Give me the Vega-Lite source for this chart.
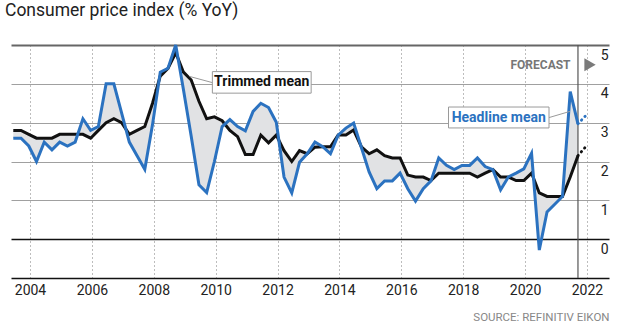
{
  "$schema": "https://vega.github.io/schema/vega-lite/v6.json",
  "width": 598,
  "height": 233,
  "autosize": "none",
  "padding": {"left": 11, "top": 45, "right": 11, "bottom": 54},
  "background": "white",
  "title": {"text": "Consumer price index (% YoY)", "anchor": "start", "frame": "group", "orient": "top", "offset": 20, "dx": -6, "font": "Roboto", "fontSize": 17.5, "fontWeight": "normal", "color": "#222"},
  "config": {"view": {"stroke": null}, "font": "Roboto"},
  "datasets": {
    "cpi": [
      {"t": 2003.46, "headline": 2.6, "trimmed": 2.8},
      {"t": 2003.71, "headline": 2.6, "trimmed": 2.8},
      {"t": 2003.96, "headline": 2.4, "trimmed": 2.7},
      {"t": 2004.21, "headline": 2.0, "trimmed": 2.6},
      {"t": 2004.46, "headline": 2.5, "trimmed": 2.6},
      {"t": 2004.71, "headline": 2.3, "trimmed": 2.6},
      {"t": 2004.96, "headline": 2.5, "trimmed": 2.7},
      {"t": 2005.21, "headline": 2.4, "trimmed": 2.7},
      {"t": 2005.46, "headline": 2.5, "trimmed": 2.7},
      {"t": 2005.71, "headline": 3.1, "trimmed": 2.7},
      {"t": 2005.96, "headline": 2.8, "trimmed": 2.6},
      {"t": 2006.21, "headline": 2.9, "trimmed": 2.8},
      {"t": 2006.46, "headline": 4.0, "trimmed": 3.0},
      {"t": 2006.71, "headline": 4.0, "trimmed": 3.1},
      {"t": 2006.96, "headline": 3.25, "trimmed": 3.0},
      {"t": 2007.21, "headline": 2.5, "trimmed": 2.7},
      {"t": 2007.46, "headline": 2.15, "trimmed": 2.8},
      {"t": 2007.71, "headline": 1.8, "trimmed": 2.9},
      {"t": 2007.96, "headline": 2.95, "trimmed": 3.5},
      {"t": 2008.21, "headline": 4.3, "trimmed": 4.2},
      {"t": 2008.46, "headline": 4.4, "trimmed": 4.4},
      {"t": 2008.71, "headline": 5.0, "trimmed": 4.8},
      {"t": 2008.96, "headline": 3.85, "trimmed": 4.3},
      {"t": 2009.21, "headline": 2.65, "trimmed": 4.1},
      {"t": 2009.46, "headline": 1.4, "trimmed": 3.55},
      {"t": 2009.71, "headline": 1.2, "trimmed": 3.1},
      {"t": 2009.96, "headline": 2.0, "trimmed": 3.15},
      {"t": 2010.21, "headline": 2.9, "trimmed": 3.05},
      {"t": 2010.46, "headline": 3.08, "trimmed": 2.8},
      {"t": 2010.71, "headline": 2.9, "trimmed": 2.64},
      {"t": 2010.96, "headline": 2.79, "trimmed": 2.18},
      {"t": 2011.21, "headline": 3.29, "trimmed": 2.18},
      {"t": 2011.46, "headline": 3.5, "trimmed": 2.68},
      {"t": 2011.71, "headline": 3.39, "trimmed": 2.48},
      {"t": 2011.96, "headline": 3.01, "trimmed": 2.68},
      {"t": 2012.21, "headline": 1.6, "trimmed": 2.28},
      {"t": 2012.46, "headline": 1.19, "trimmed": 2.0},
      {"t": 2012.71, "headline": 1.98, "trimmed": 2.28},
      {"t": 2012.96, "headline": 2.2, "trimmed": 2.2},
      {"t": 2013.21, "headline": 2.5, "trimmed": 2.37},
      {"t": 2013.46, "headline": 2.38, "trimmed": 2.38},
      {"t": 2013.71, "headline": 2.2, "trimmed": 2.38},
      {"t": 2013.96, "headline": 2.68, "trimmed": 2.68},
      {"t": 2014.21, "headline": 2.86, "trimmed": 2.68},
      {"t": 2014.46, "headline": 2.99, "trimmed": 2.81},
      {"t": 2014.71, "headline": 2.36, "trimmed": 2.38},
      {"t": 2014.96, "headline": 1.73, "trimmed": 2.2},
      {"t": 2015.21, "headline": 1.3, "trimmed": 2.3},
      {"t": 2015.46, "headline": 1.5, "trimmed": 2.15},
      {"t": 2015.71, "headline": 1.5, "trimmed": 2.09},
      {"t": 2015.96, "headline": 1.7, "trimmed": 2.09},
      {"t": 2016.21, "headline": 1.3, "trimmed": 1.65},
      {"t": 2016.46, "headline": 0.98, "trimmed": 1.6},
      {"t": 2016.71, "headline": 1.3, "trimmed": 1.6},
      {"t": 2016.96, "headline": 1.5, "trimmed": 1.51},
      {"t": 2017.21, "headline": 2.09, "trimmed": 1.7},
      {"t": 2017.46, "headline": 1.9, "trimmed": 1.7},
      {"t": 2017.71, "headline": 1.79, "trimmed": 1.7},
      {"t": 2017.96, "headline": 1.9, "trimmed": 1.7},
      {"t": 2018.21, "headline": 1.9, "trimmed": 1.7},
      {"t": 2018.46, "headline": 2.09, "trimmed": 1.6},
      {"t": 2018.71, "headline": 1.87, "trimmed": 1.7},
      {"t": 2018.96, "headline": 1.79, "trimmed": 1.79},
      {"t": 2019.21, "headline": 1.27, "trimmed": 1.6},
      {"t": 2019.46, "headline": 1.6, "trimmed": 1.6},
      {"t": 2019.71, "headline": 1.7, "trimmed": 1.51},
      {"t": 2019.96, "headline": 1.81, "trimmed": 1.51},
      {"t": 2020.21, "headline": 2.21, "trimmed": 1.7},
      {"t": 2020.46, "headline": -0.28, "trimmed": 1.19},
      {"t": 2020.71, "headline": 0.7, "trimmed": 1.1},
      {"t": 2020.96, "headline": 0.9, "trimmed": 1.1},
      {"t": 2021.21, "headline": 1.1, "trimmed": 1.1},
      {"t": 2021.46, "headline": 3.8, "trimmed": 1.6},
      {"t": 2021.71, "headline": 2.97, "trimmed": 2.15},
      {"t": 2021.96, "headline": 3.18, "trimmed": 2.38}
    ]
  },
  "layer": [
    {
      "data": {"name": "cpi"},
      "transform": [{"filter": "datum.t < 2021.8"}],
      "mark": {"type": "area", "color": "#e1e2e4"},
      "encoding": {
        "x": {
          "field": "t", "type": "quantitative",
          "scale": {"domain": [2003.386, 2022.713], "nice": false, "zero": false},
          "axis": {
            "values": [2004, 2006, 2008, 2010, 2012, 2014, 2016, 2018, 2020, 2022],
            "format": "d", "grid": true, "gridDash": [1, 3], "gridColor": "#7a7a7a", "gridWidth": 1,
            "domainColor": "#111", "domainWidth": 1.5, "ticks": false, "tickSize": 0,
            "labelFontSize": 14, "labelColor": "#222", "labelPadding": 5, "labelFlush": false,
            "title": "SOURCE: REFINITIV EIKON", "titleAnchor": "end", "titleFontSize": 11.5,
            "titleFontWeight": "normal", "titleColor": "#888", "titlePadding": 14
          }
        },
        "y": {
          "field": "trimmed", "type": "quantitative",
          "scale": {"domain": [-1, 5], "nice": false, "zero": false},
          "axis": {
            "orient": "right", "values": [0, 1, 2, 3, 4, 5], "title": null,
            "grid": true,
            "gridColor": {"condition": [{"test": "datum.value === 0", "value": "#111"}, {"test": "datum.value === 5", "value": "#666"}], "value": "#a0a0a0"},
            "gridWidth": {"condition": [{"test": "datum.value === 0", "value": 1.5}, {"test": "datum.value === 5", "value": 2}], "value": 1},
            "domain": false, "ticks": false, "tickSize": 0,
            "labelAlign": "right", "labelBaseline": "top", "labelPadding": -1, "labelOffset": 3,
            "labelFontSize": 14, "labelColor": "#222"
          }
        },
        "y2": {"field": "headline"}
      }
    },
    {
      "data": {"values": [{}]},
      "mark": {"type": "rule", "color": "#555", "strokeWidth": 1.2},
      "encoding": {"x": {"datum": 2021.71, "type": "quantitative"}}
    },
    {
      "data": {"name": "cpi"},
      "transform": [{"filter": "datum.t < 2021.8"}],
      "mark": {"type": "line", "color": "#111", "strokeWidth": 3},
      "encoding": {
        "x": {"field": "t", "type": "quantitative"},
        "y": {"field": "trimmed", "type": "quantitative"}
      }
    },
    {
      "data": {"name": "cpi"},
      "transform": [{"filter": "datum.t < 2021.8"}],
      "mark": {"type": "line", "color": "#2b72c0", "strokeWidth": 3},
      "encoding": {
        "x": {"field": "t", "type": "quantitative"},
        "y": {"field": "headline", "type": "quantitative"}
      }
    },
    {
      "data": {"name": "cpi"},
      "transform": [{"filter": "datum.t > 2021.7"}],
      "mark": {"type": "line", "color": "#111", "strokeWidth": 2.8, "strokeDash": [0.5, 4.5], "strokeCap": "round"},
      "encoding": {
        "x": {"field": "t", "type": "quantitative"},
        "y": {"field": "trimmed", "type": "quantitative"}
      }
    },
    {
      "data": {"name": "cpi"},
      "transform": [{"filter": "datum.t > 2021.7"}],
      "mark": {"type": "line", "color": "#2b72c0", "strokeWidth": 2.8, "strokeDash": [0.5, 4.5], "strokeCap": "round"},
      "encoding": {
        "x": {"field": "t", "type": "quantitative"},
        "y": {"field": "headline", "type": "quantitative"}
      }
    },
    {
      "data": {"values": [{}]},
      "mark": {"type": "rule", "color": "#9a9a9a", "strokeWidth": 1},
      "encoding": {
        "x": {"datum": 2009.16, "type": "quantitative"}, "y": {"datum": 4.19, "type": "quantitative"},
        "x2": {"datum": 2009.9}, "y2": {"datum": 4.03}
      }
    },
    {
      "data": {"values": [{}]},
      "mark": {"type": "rule", "color": "#9a9a9a", "strokeWidth": 1},
      "encoding": {
        "x": {"datum": 2020.77, "type": "quantitative"}, "y": {"datum": 3.13, "type": "quantitative"},
        "x2": {"datum": 2021.45}, "y2": {"datum": 3.29}
      }
    },
    {
      "data": {"values": [{}]},
      "mark": {"type": "rect", "fill": "white", "stroke": "#9a9a9a", "strokeWidth": 1},
      "encoding": {
        "x": {"datum": 2009.894, "type": "quantitative"}, "x2": {"datum": 2013.087},
        "y": {"datum": 4.315, "type": "quantitative"}, "y2": {"datum": 3.76}
      }
    },
    {
      "data": {"values": [{}]},
      "mark": {"type": "rect", "fill": "white", "stroke": "#9a9a9a", "strokeWidth": 1},
      "encoding": {
        "x": {"datum": 2017.526, "type": "quantitative"}, "x2": {"datum": 2020.774},
        "y": {"datum": 3.403, "type": "quantitative"}, "y2": {"datum": 2.864}
      }
    },
    {
      "data": {"values": [{}]},
      "mark": {"type": "text", "text": "Trimmed mean", "fontWeight": "bold", "fontSize": 14, "color": "#111", "align": "center", "baseline": "middle"},
      "encoding": {"x": {"datum": 2011.49, "type": "quantitative"}, "y": {"datum": 4.04, "type": "quantitative"}}
    },
    {
      "data": {"values": [{}]},
      "mark": {"type": "text", "text": "Headline mean", "fontWeight": "bold", "fontSize": 14, "color": "#2b72c0", "align": "center", "baseline": "middle"},
      "encoding": {"x": {"datum": 2019.15, "type": "quantitative"}, "y": {"datum": 3.13, "type": "quantitative"}}
    },
    {
      "data": {"values": [{}]},
      "mark": {"type": "text", "text": "FORECAST", "fontWeight": "bold", "fontSize": 12, "color": "#777", "align": "right", "baseline": "middle"},
      "encoding": {"x": {"datum": 2021.47, "type": "quantitative"}, "y": {"datum": 4.49, "type": "quantitative"}}
    },
    {
      "data": {"values": [{}]},
      "mark": {"type": "point", "shape": "triangle-right", "filled": true, "color": "#7a7a7a", "opacity": 1, "size": 170},
      "encoding": {"x": {"datum": 2022.1, "type": "quantitative"}, "y": {"datum": 4.49, "type": "quantitative"}}
    }
  ]
}
